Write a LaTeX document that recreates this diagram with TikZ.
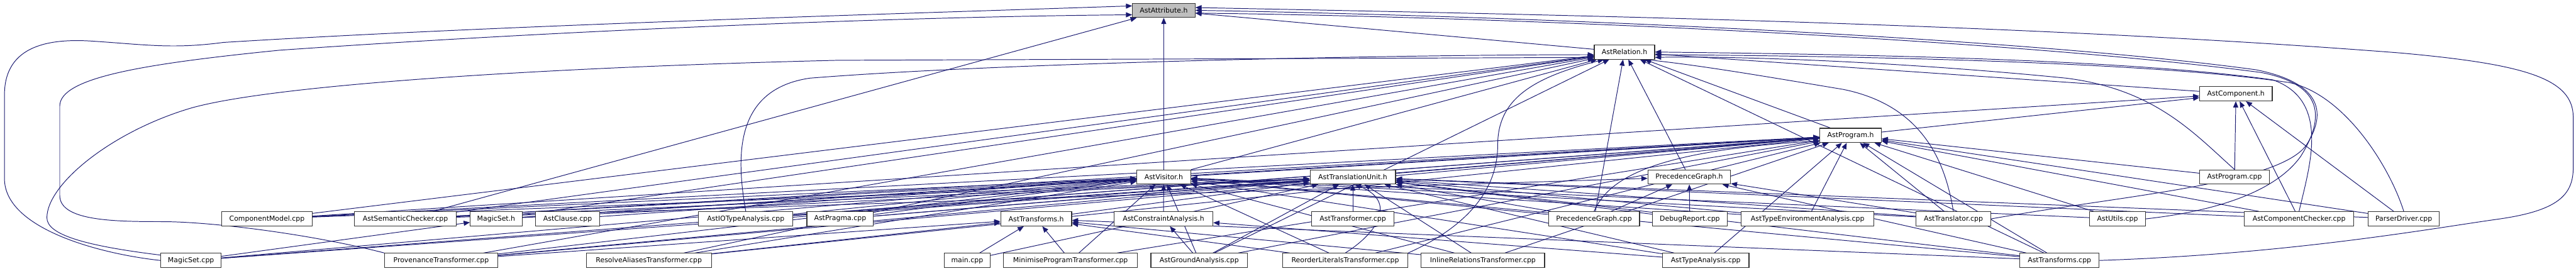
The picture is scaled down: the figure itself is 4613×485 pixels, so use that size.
\documentclass[tikz,border=0pt]{standalone}
\usepackage{fontspec}
\setmainfont{DejaVu Sans}
\usetikzlibrary{arrows.meta}
\definecolor{edgecol}{RGB}{25,25,112}
\definecolor{nodegray}{RGB}{191,191,191}
\pgfdeclarelayer{bg}
\pgfsetlayers{bg,main}
\begin{document}
\begin{tikzpicture}[x=1pt,y=-1pt,
  box/.style={draw=black!80, line width=1.3pt, fill=white, minimum height=25.5pt,
    inner xsep=3pt, inner ysep=0pt, font=\fontsize{12.3}{14}\selectfont, anchor=center},
  edge/.style={draw=edgecol, line width=1.1pt, -{Triangle[length=11pt,width=9pt]}}]
\useasboundingbox (0,0) rectangle (4613,485);
% row 0
\node[box, fill=nodegray, minimum width=112pt] (attr) at (2084,18.5) {AstAttribute.h};
% row 1
\node[box, minimum width=108pt] (rel) at (2909,93.2) {AstRelation.h};
% row 2
\node[box, minimum width=130pt] (comp) at (4004,168) {AstComponent.h};
% row 3
\node[box, minimum width=110pt] (prog) at (3314,242.5) {AstProgram.h};
% row 4
\node[box, minimum width=96pt] (vis) at (2084,317) {AstVisitor.h};
\node[box, minimum width=153pt] (tu) at (2422.5,317) {AstTranslationUnit.h};
\node[box, minimum width=148pt] (pgh) at (3025,317) {PrecedenceGraph.h};
\node[box, minimum width=125pt] (progcpp) at (4001.5,317) {AstProgram.cpp};
% row 5
\node[box, minimum width=162pt] (cm) at (478,392) {ComponentModel.cpp};
\node[box, minimum width=182pt] (sem) at (726,392) {AstSemanticChecker.cpp};
\node[box, minimum width=93pt] (msh) at (888.5,392) {MagicSet.h};
\node[box, minimum width=115pt] (clause) at (1016.5,392) {AstClause.cpp};
\node[box, minimum width=169pt] (io) at (1335.5,392) {AstIOTypeAnalysis.cpp};
\node[box, minimum width=119pt] (pragma) at (1504.5,392) {AstPragma.cpp};
\node[box, minimum width=127pt] (tfh) at (1855.5,392) {AstTransforms.h};
\node[box, minimum width=177pt] (cah) at (2083.5,392) {AstConstraintAnalysis.h};
\node[box, minimum width=147pt] (tfr) at (2422.5,392) {AstTransformer.cpp};
\node[box, minimum width=163pt] (pgc) at (2854.5,392) {PrecedenceGraph.cpp};
\node[box, minimum width=134pt] (dbg) at (3026,392) {DebugReport.cpp};
\node[box, minimum width=238pt] (tea) at (3237,392) {AstTypeEnvironmentAnalysis.cpp};
\node[box, minimum width=134pt] (trl) at (3498,392) {AstTranslator.cpp};
\node[box, minimum width=100pt] (utl) at (3792,392) {AstUtils.cpp};
\node[box, minimum width=196pt] (cc) at (4117,392) {AstComponentChecker.cpp};
\node[box, minimum width=127pt] (pd) at (4304.5,392) {ParserDriver.cpp};
% row 6
\node[box, minimum width=108pt] (mscpp) at (342,466.5) {MagicSet.cpp};
\node[box, minimum width=202pt] (prov) at (790,466.5) {ProvenanceTransformer.cpp};
\node[box, minimum width=224pt] (ra) at (1162,466.5) {ResolveAliasesTransformer.cpp};
\node[box, minimum width=82pt] (main) at (1732,466.5) {main.cpp};
\node[box, minimum width=240pt] (mini) at (1917,466.5) {MinimiseProgramTransformer.cpp};
\node[box, minimum width=173pt] (ga) at (2147.5,466.5) {AstGroundAnalysis.cpp};
\node[box, minimum width=224pt] (rl) at (2409,466.5) {ReorderLiteralsTransformer.cpp};
\node[box, minimum width=221pt] (ir) at (2655.5,466.5) {InlineRelationsTransformer.cpp};
\node[box, minimum width=155pt] (ta) at (3054.5,466.5) {AstTypeAnalysis.cpp};
\node[box, minimum width=142pt] (tfc) at (3688,466.5) {AstTransforms.cpp};

\begin{pgfonlayer}{bg}
\foreach \s/\t in {rel/attr, vis/attr, comp/rel, prog/rel, prog/comp, vis/rel, vis/prog,
  tu/prog, pgh/rel, tfh/tu, cah/vis,
  cm/comp, cm/prog, cm/rel, cm/tu, cm/vis,
  sem/attr, sem/rel, sem/prog, sem/tu, sem/vis, sem/pgh,
  msh/prog, msh/rel, msh/tu, msh/vis,
  clause/vis,
  io/prog, io/tu, io/vis,
  pragma/prog, pragma/tu, pragma/vis,
  tfr/tu,
  pgc/rel, pgc/pgh, pgc/tu, pgc/vis,
  dbg/pgh, dbg/tu,
  tea/prog, tea/tu, tea/vis,
  trl/prog, trl/tu, trl/vis, trl/pgh,
  utl/prog, utl/vis,
  cc/comp, cc/prog, cc/tu,
  pd/comp, pd/prog, pd/tu,
  progcpp/prog, progcpp/comp,
  mscpp/msh, mscpp/prog, mscpp/tu, mscpp/vis,
  prov/tfh, prov/rel, prov/prog, prov/tu, prov/vis,
  ra/tfh, ra/rel, ra/prog, ra/vis,
  main/tfh, main/tu,
  mini/tfh, mini/prog, mini/vis,
  ga/cah, ga/vis, ga/rel, ga/prog, ga/tu,
  rl/tfh, rl/vis, rl/prog,
  ir/tu, ir/tfh, ir/vis, ir/prog,
  ta/tu, ta/cah, ta/prog, ta/vis,
  tfc/tfh, tfc/rel, tfc/prog, tfc/tu, tfc/vis, tfc/pgh}
  \draw[edge] (\s) -- (\t);
% curved connectors
\draw[edge] (mscpp.west) .. controls (180,455) and (8,410) .. (8,320) -- (8,170)
  .. controls (8,80) and (90,68) .. (170,74) .. controls (260,80) and (310,88) .. (400,76)
  .. controls (900,45) and (1600,25) .. (attr.172);
\draw[edge] (prov.north west) .. controls (560,420) and (380,397) .. (290,397)
  .. controls (200,397) and (107,395) .. (107,350) -- (107,190)
  .. controls (107,140) and (250,115) .. (500,90) .. controls (1000,55) and (1600,30) .. (attr.188);
\draw[edge] (tfc.east) .. controls (4100,455) and (4350,410) .. (4470,393)
  .. controls (4580,378) and (4608,350) .. (4608,300) -- (4608,210)
  .. controls (4608,140) and (4520,115) .. (4300,95) .. controls (3600,40) and (2700,25) .. (attr.5);
\draw[edge] (mscpp.170) .. controls (150,440) and (84,420) .. (84,390)
  .. controls (84,330) and (200,235) .. (344,193) .. controls (500,150) and (1000,120) .. (1500,108)
  -- (rel.190);
\draw[edge] (io.north) .. controls (1318,280) and (1315,160) .. (1450,140)
  .. controls (1800,112) and (2500,98) .. (rel.185);
\draw[edge] (rl.north) .. controls (2470,415) and (2500,360) .. (tu.-75);
\draw[edge] (rl.north east) .. controls (2640,400) and (2682,330) .. (2682,260)
  .. controls (2682,180) and (2740,140) .. (rel.200);
\draw[edge] (pgc.north) .. controls (2880,320) and (2960,270) .. (prog.190);
\draw[edge] (trl.north) .. controls (3485,300) and (3450,190) .. (3300,160)
  .. controls (3150,135) and (3050,118) .. (rel.-20);
\draw[edge] (cc.north) .. controls (4135,300) and (4175,180) .. (4070,143)
  .. controls (3800,105) and (3300,97) .. (rel.east);
\draw[edge] (pd.north) .. controls (4280,300) and (4200,170) .. (4100,148)
  .. controls (3850,110) and (3300,100) .. (rel.-5);
\draw[edge] (progcpp.north) .. controls (3930,240) and (3860,160) .. (3700,140)
  .. controls (3400,110) and (3100,100) .. (rel.-10);
\draw[edge] (utl.east) .. controls (3950,380) and (4070,350) .. (4120,280)
  .. controls (4170,200) and (4150,150) .. (4050,130) .. controls (3600,70) and (2700,30) .. (attr.-5);
\draw[edge] (trl.east) .. controls (3800,350) and (4080,330) .. (4130,260)
  .. controls (4175,190) and (4140,145) .. (4040,125) .. controls (3600,65) and (2700,28) .. (attr.0);
\end{pgfonlayer}
\end{tikzpicture}
\end{document}
